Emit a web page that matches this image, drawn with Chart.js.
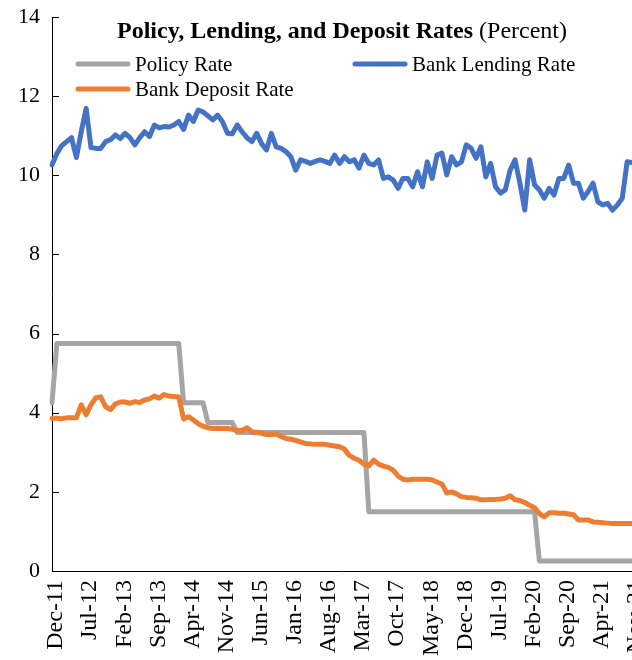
<!DOCTYPE html>
<html>
<head>
<meta charset="utf-8">
<script src="https://cdn.jsdelivr.net/npm/chart.js@4"></script>
<style>
  body { margin: 0; background: #fff; }
  #wrap { width: 632px; height: 660px; }
</style>
</head>
<body>
<div id="wrap"><canvas id="grafico" width="632" height="660"></canvas></div>
<script>
// categorias (mensual)
var meses = [
  'Dec-11',
  'Jan-12','Feb-12','Mar-12','Apr-12','May-12','Jun-12','Jul-12','Aug-12','Sep-12','Oct-12','Nov-12','Dec-12',
  'Jan-13','Feb-13','Mar-13','Apr-13','May-13','Jun-13','Jul-13','Aug-13','Sep-13','Oct-13','Nov-13','Dec-13',
  'Jan-14','Feb-14','Mar-14','Apr-14','May-14','Jun-14','Jul-14','Aug-14','Sep-14','Oct-14','Nov-14','Dec-14',
  'Jan-15','Feb-15','Mar-15','Apr-15','May-15','Jun-15','Jul-15','Aug-15','Sep-15','Oct-15','Nov-15','Dec-15',
  'Jan-16','Feb-16','Mar-16','Apr-16','May-16','Jun-16','Jul-16','Aug-16','Sep-16','Oct-16','Nov-16','Dec-16',
  'Jan-17','Feb-17','Mar-17','Apr-17','May-17','Jun-17','Jul-17','Aug-17','Sep-17','Oct-17','Nov-17','Dec-17',
  'Jan-18','Feb-18','Mar-18','Apr-18','May-18','Jun-18','Jul-18','Aug-18','Sep-18','Oct-18','Nov-18','Dec-18',
  'Jan-19','Feb-19','Mar-19','Apr-19','May-19','Jun-19','Jul-19','Aug-19','Sep-19','Oct-19','Nov-19','Dec-19',
  'Jan-20','Feb-20','Mar-20','Apr-20','May-20','Jun-20','Jul-20','Aug-20','Sep-20','Oct-20','Nov-20','Dec-20',
  'Jan-21','Feb-21','Mar-21','Apr-21','May-21','Jun-21','Jul-21','Aug-21','Sep-21','Oct-21','Nov-21'
];

// etiquetas visibles del eje x (cada 7 meses)
var etiquetasX = ['Dec-11','Jul-12','Feb-13','Sep-13','Apr-14','Nov-14','Jun-15','Jan-16','Aug-16',
  'Mar-17','Oct-17','May-18','Dec-18','Jul-19','Feb-20','Sep-20','Apr-21','Nov-21'];

var ticksY = [0, 2, 4, 6, 8, 10, 12, 14];

// series (porcentaje)
var tasaPolitica = [
  4.25, 5.75, 5.75, 5.75, 5.75, 5.75, 5.75, 5.75, 5.75, 5.75, 5.75, 5.75, 5.75,
  5.75, 5.75, 5.75, 5.75, 5.75, 5.75, 5.75, 5.75, 5.75, 5.75, 5.75, 5.75,
  5.75, 5.75, 4.25, 4.25, 4.25, 4.25, 4.25, 3.75, 3.75, 3.75, 3.75, 3.75,
  3.75, 3.5, 3.5, 3.5, 3.5, 3.5, 3.5, 3.5, 3.5, 3.5, 3.5, 3.5,
  3.5, 3.5, 3.5, 3.5, 3.5, 3.5, 3.5, 3.5, 3.5, 3.5, 3.5, 3.5,
  3.5, 3.5, 3.5, 3.5, 1.5, 1.5, 1.5, 1.5, 1.5, 1.5, 1.5, 1.5,
  1.5, 1.5, 1.5, 1.5, 1.5, 1.5, 1.5, 1.5, 1.5, 1.5, 1.5, 1.5,
  1.5, 1.5, 1.5, 1.5, 1.5, 1.5, 1.5, 1.5, 1.5, 1.5, 1.5, 1.5,
  1.5, 1.5, 1.5, 0.25, 0.25, 0.25, 0.25, 0.25, 0.25, 0.25, 0.25, 0.25,
  0.25, 0.25, 0.25, 0.25, 0.25, 0.25, 0.25, 0.25, 0.25, 0.25, 0.25
];

var tasaPrestamos = [
  10.26, 10.55, 10.75, 10.85, 10.95, 10.45, 11.1, 11.69, 10.7, 10.68, 10.68, 10.85, 10.9,
  11.02, 10.93, 11.06, 10.95, 10.77, 10.95, 11.1, 10.98, 11.27, 11.2, 11.23, 11.22,
  11.27, 11.36, 11.16, 11.52, 11.36, 11.65, 11.6, 11.5, 11.4, 11.52, 11.35, 11.06,
  11.05, 11.27, 11.1, 10.95, 10.85, 11.06, 10.8, 10.64, 11.06, 10.72, 10.68, 10.6,
  10.47, 10.13, 10.39, 10.35, 10.3, 10.35, 10.39, 10.35, 10.3, 10.51, 10.3, 10.47,
  10.34, 10.39, 10.18, 10.51, 10.3, 10.26, 10.39, 9.92, 9.96, 9.88, 9.67, 9.92,
  9.92, 9.71, 10.09, 9.71, 10.34, 9.92, 10.51, 10.56, 10.01, 10.47, 10.26, 10.34,
  10.77, 10.68, 10.43, 10.72, 9.96, 10.3, 9.71, 9.55, 9.63, 10.13, 10.39, 9.8,
  9.12, 10.39, 9.76, 9.63, 9.42, 9.67, 9.5, 9.92, 9.92, 10.26, 9.8, 9.8,
  9.42, 9.59, 9.8, 9.33, 9.25, 9.29, 9.12, 9.25, 9.42, 10.34, 10.32
];

var tasaDepositos = [
  3.86, 3.86, 3.85, 3.87, 3.87, 3.87, 4.2, 3.95, 4.2, 4.38, 4.4, 4.15, 4.08,
  4.22, 4.27, 4.27, 4.24, 4.28, 4.26, 4.32, 4.35, 4.42, 4.37, 4.46, 4.42,
  4.41, 4.4, 3.84, 3.9, 3.82, 3.72, 3.66, 3.62, 3.6, 3.61, 3.6, 3.6,
  3.58, 3.55, 3.55, 3.62, 3.52, 3.5, 3.48, 3.45, 3.45, 3.46, 3.4, 3.35,
  3.33, 3.3, 3.26, 3.22, 3.21, 3.2, 3.2, 3.2, 3.18, 3.16, 3.14, 3.08,
  2.92, 2.85, 2.8, 2.7, 2.66, 2.8, 2.7, 2.65, 2.62, 2.55, 2.4, 2.32,
  2.3, 2.32, 2.32, 2.32, 2.32, 2.3, 2.25, 2.2, 1.97, 2.0, 1.95, 1.88,
  1.86, 1.85, 1.84, 1.8, 1.8, 1.81, 1.81, 1.82, 1.84, 1.9, 1.8, 1.78,
  1.73, 1.66, 1.6, 1.45, 1.37, 1.47, 1.47, 1.46, 1.46, 1.44, 1.42, 1.29,
  1.29, 1.29, 1.24, 1.23, 1.22, 1.21, 1.2, 1.2, 1.2, 1.2, 1.2
];

var fuente = '"Liberation Serif", "Times New Roman", serif';
var gris = '#A5A5A5', azul = '#4472C4', naranja = '#ED7D31';

// titulo, leyenda y marcas interiores del eje y
var decoracion = {
  id: 'decoracion',
  afterDraw: function (chart) {
    var c = chart.ctx;
    var area = chart.chartArea;
    var y = chart.scales.y;
    c.save();
    // marcas del eje y hacia dentro
    c.strokeStyle = '#000';
    c.lineWidth = 1;
    ticksY.forEach(function (v) {
      var py = Math.round(y.getPixelForValue(v)) + 0.5;
      c.beginPath();
      c.moveTo(area.left, py);
      c.lineTo(area.left + 7, py);
      c.stroke();
    });
    // titulo
    var t1 = 'Policy, Lending, and Deposit Rates';
    var t2 = ' (Percent)';
    c.fillStyle = '#000';
    c.textBaseline = 'middle';
    c.font = 'bold 24px ' + fuente;
    var w1 = c.measureText(t1).width;
    c.font = '24px ' + fuente;
    var w2 = c.measureText(t2).width;
    var x0 = 342 - (w1 + w2) / 2;
    c.font = 'bold 24px ' + fuente;
    c.textAlign = 'left';
    c.fillText(t1, x0, 32);
    c.font = '24px ' + fuente;
    c.fillText(t2, x0 + w1, 32);
    // leyenda
    var items = [
      { txt: 'Policy Rate', col: gris, x: 78, y: 64 },
      { txt: 'Bank Lending Rate', col: azul, x: 355, y: 64 },
      { txt: 'Bank Deposit Rate', col: naranja, x: 78, y: 89 }
    ];
    c.lineCap = 'round';
    c.lineWidth = 5;
    c.font = '21px ' + fuente;
    items.forEach(function (it) {
      c.strokeStyle = it.col;
      c.beginPath();
      c.moveTo(it.x, it.y);
      c.lineTo(it.x + 50, it.y);
      c.stroke();
      c.fillStyle = '#000';
      c.fillText(it.txt, it.x + 57, it.y + 1);
    });
    c.restore();
  }
};

var ctx = document.getElementById('grafico').getContext('2d');

var config = {
  type: 'line',
  data: {
    labels: meses,
    datasets: [
      { label: 'Policy Rate', data: tasaPolitica, borderColor: gris, order: 3 },
      { label: 'Bank Lending Rate', data: tasaPrestamos, borderColor: azul, order: 2 },
      { label: 'Bank Deposit Rate', data: tasaDepositos, borderColor: naranja, order: 1 }
    ]
  },
  options: {
    responsive: false,
    animation: false,
    devicePixelRatio: 1,
    layout: { padding: { top: 17, right: 0, left: 0, bottom: 0 } },
    elements: {
      line: { borderWidth: 5, tension: 0, borderCapStyle: 'round', borderJoinStyle: 'round', fill: false },
      point: { radius: 0 }
    },
    plugins: {
      legend: { display: false },
      title: { display: false },
      tooltip: { enabled: false }
    },
    scales: {
      x: {
        type: 'category',
        offset: false,
        grid: { display: false, drawTicks: false },
        border: { display: true, color: '#000', width: 1 },
        ticks: {
          autoSkip: false,
          minRotation: 90,
          maxRotation: 90,
          padding: 9,
          labelOffset: 4,
          color: '#000',
          font: { family: fuente, size: 24 },
          callback: function (val, i) {
            var m = meses[i];
            return etiquetasX.indexOf(m) >= 0 ? m : null;
          }
        },
        afterFit: function (s) {
          s.height = 89;
          s.paddingLeft = 0;
          s.paddingRight = 0;
        }
      },
      y: {
        min: 0,
        max: 14,
        grid: { display: false, drawTicks: false },
        border: { display: true, color: '#000', width: 1 },
        ticks: {
          stepSize: 2,
          padding: 12,
          color: '#000',
          font: { family: fuente, size: 22 }
        },
        afterFit: function (s) {
          s.width = 52;
          s.paddingTop = 0;
          s.paddingBottom = 0;
        }
      }
    }
  },
  plugins: [decoracion]
};

var graficoTasas = new Chart(ctx, config);
</script>
</body>
</html>
